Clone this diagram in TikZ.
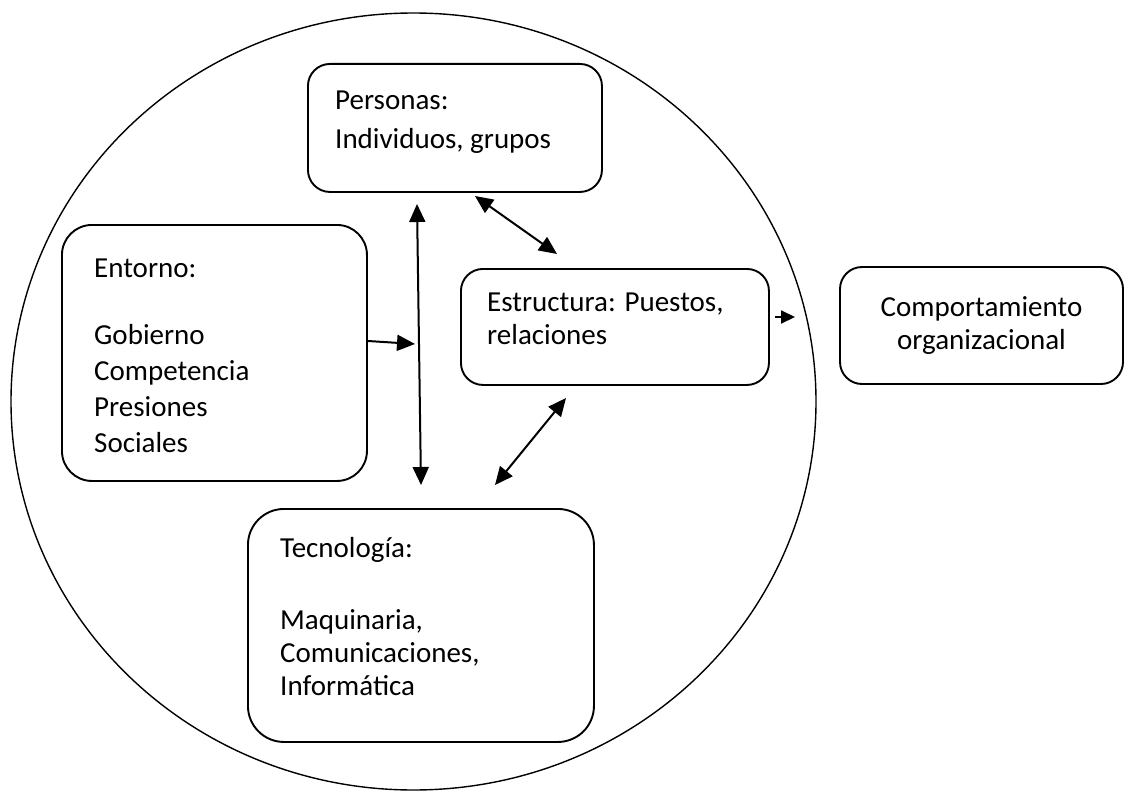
\documentclass[tikz,border=0pt]{standalone}
\usepackage{fontspec}
\setmainfont{Carlito}
\usetikzlibrary{arrows.meta,positioning}

\tikzset{
  caja/.style={draw, line width=1.9pt, rounded corners=22pt, inner sep=0pt, anchor=north west},
  texto/.style={inner sep=0pt, align=left, anchor=north west},
  flecha/.style={line width=2pt, -{Triangle[length=18pt,width=16pt]}},
  doble/.style={line width=2pt, {Triangle[length=18pt,width=16pt]}-{Triangle[length=18pt,width=16pt]}},
}

\begin{document}
\begin{tikzpicture}[x=1pt,y=-1pt,font=\fontsize{29}{36}\selectfont]
    \useasboundingbox (0,0) rectangle (1127,792);
    % The big circle round the organisation
    \draw[line width=1.4pt] (413.5,401.5) ellipse [x radius=402.5, y radius=388.5];

    % Boxes: {name, top left corner, size}
    \node[caja, minimum width=294, minimum height=128] (personas) at (307,63) {};
    \node[caja, rounded corners=30pt, minimum width=305, minimum height=256] (entorno) at (61,224) {};
    \node[caja, minimum width=308, minimum height=116] (estructura) at (460,268) {};
    \node[caja, rounded corners=36pt, minimum width=346, minimum height=233] (tecnologia) at (247,508) {};
    \node[caja, anchor=center, align=center, minimum width=283, minimum height=117] (comportamiento)
        at (981.5,325.5) {Comportamiento\\[-3pt]organizacional};

    % Texts in the top left of each box
    \node[texto, below right=28pt and 28pt of personas.north west] (personasTxt)
        {Personas:\\[3pt]Individuos, grupos};
    \node[texto, below right=35pt and 33pt of entorno.north west] (entornoTxt)
        {Entorno:\\[31pt]Gobierno\\Competencia\\Presiones\\Sociales};
    \node[texto, below right=25pt and 27pt of estructura.north west] (estructuraTxt)
        {Estructura: Puestos,\\[-3pt]relaciones};
    \node[texto, below right=29pt and 33pt of tecnologia.north west] (tecnologiaTxt)
        {Tecnología:\\[36pt]Maquinaria,\\[-3pt]Comunicaciones,\\[-3pt]Informática};

    % Free ends of the arrows
    \coordinate (vArriba) at (417,204);
    \coordinate (vAbajo) at (421,485);
    \coordinate (peA) at (475,196);
    \coordinate (peB) at (557,254);
    \coordinate (etA) at (566,398);
    \coordinate (etB) at (495,485);
    \coordinate (entornoSal) at (368,341);
    \coordinate (entornoLlega) at (415,344);
    \coordinate (estrSal) at (775,317);
    \coordinate (compLlega) at (795,317);

    % Double arrows
    \foreach \a/\b in {vArriba/vAbajo, peA/peB, etA/etB}{
        \draw[doble] (\a) -- (\b);
    }
    % Single arrows
    \draw[flecha] (entornoSal) -- (entornoLlega);
    \draw[flecha, -{Triangle[length=14pt,width=13pt]}] (estrSal) -- (compLlega);
\end{tikzpicture}
\end{document}
